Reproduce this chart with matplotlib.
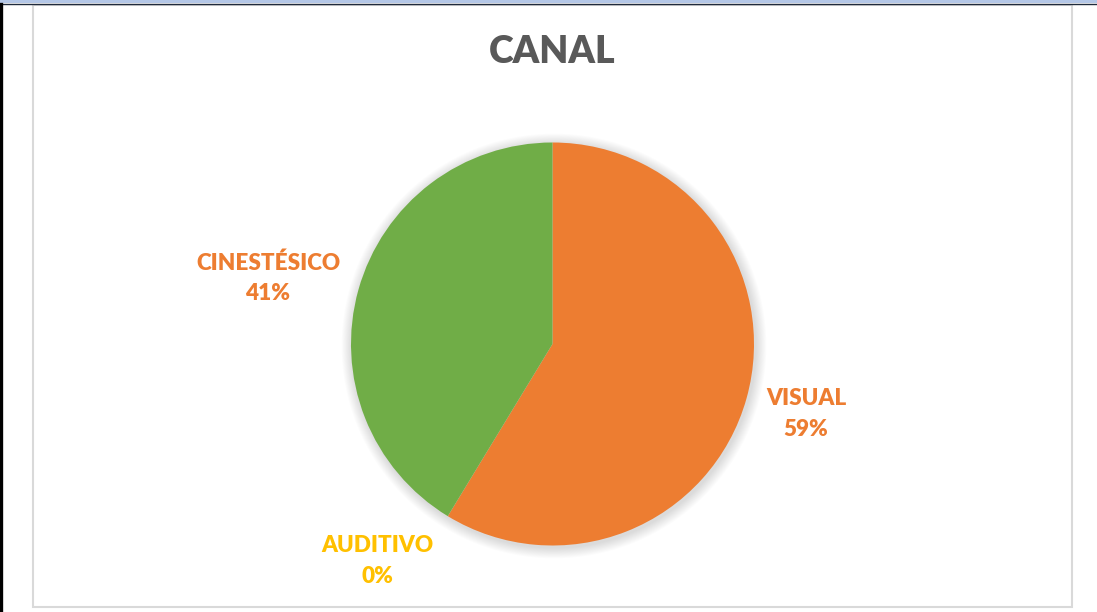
import matplotlib.pyplot as plt
from matplotlib.patches import Rectangle, Circle

# data
categorias = ["VISUAL", "AUDITIVO", "CINESTÉSICO"]
valores = [27, 0, 19]
porcentajes = ["59%", "0%", "41%"]
colores = ["#ED7D31", "#FFC000", "#70AD47"]
colores_etiqueta = ["#ED7D31", "#FFC000", "#ED7D31"]

W, H = 1097, 612
fig = plt.figure(figsize=(W / 100, H / 100), dpi=100)
fig.patch.set_facecolor("white")
ax = fig.add_axes([0, 0, 1, 1])

cx, cy, r = 552.5, H - 344, 201.5

# soft shadow around the pie
for i in range(12):
    ax.add_patch(Circle((cx + 1.5, cy - 2), r + 1 + i * 0.9, color="black",
                        alpha=0.012, lw=0, zorder=1))

ax.pie(valores, colors=colores, startangle=90, counterclock=False,
       center=(cx, cy), radius=r, wedgeprops=dict(linewidth=0, zorder=2))

ax.set_xlim(0, W)
ax.set_ylim(0, H)
ax.set_aspect("auto")
ax.axis("off")

# labels (positions in pixels from top-left)
pos_etiqueta = [(806, 414), (377, 561), (268, 278)]
for cat, pct, col, (px, py) in zip(categorias, porcentajes, colores_etiqueta, pos_etiqueta):
    ax.text(px, H - py, cat + "\n" + pct, color=col, fontsize=16.2, fontweight="heavy",
            family="Lato", ha="center", va="center", linespacing=1.55, zorder=5)

ax.text(552, H - 52, "CANAL", color="#595959", fontsize=27, fontweight="heavy",
        family="Lato", ha="center", va="center")

# chart frame and window edges
ax.add_patch(Rectangle((33, H - 607), 1072 - 33, 607 - 5, fill=False,
                       edgecolor="#D9D9D9", lw=1.5, zorder=0))
ax.add_patch(Rectangle((0, H - 3), W, 3, color="#B4C7E7", lw=0, zorder=6))
ax.plot([0, W], [H - 3.5, H - 3.5], color="#1F2A3C", lw=1, zorder=7)
ax.plot([1.2, 1.2], [0, H - 3.5], color="black", lw=2.4, zorder=7)

fig.savefig("out.png", dpi=100)
